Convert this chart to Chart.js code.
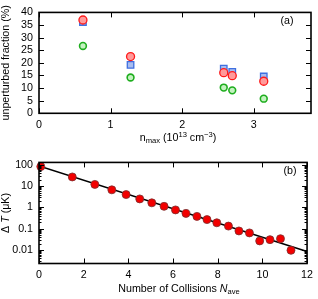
<!DOCTYPE html>
<html>
<head>
<meta charset="utf-8">
<script src="https://cdn.jsdelivr.net/npm/chart.js@4.4.1/dist/chart.umd.min.js"></script>
<style>
    html, body { margin: 0; padding: 0; background: #fff; }
    #wrap { position: relative; width: 318px; height: 299px; }
    .panel { position: absolute; left: 0; width: 318px; }
    #pa { top: 0; height: 150px; }
    #pb { top: 150px; height: 149px; }
</style>
</head>
<body>
<div id="wrap">
    <div class="panel" id="pa"><canvas id="chartA"></canvas></div>
    <div class="panel" id="pb"><canvas id="chartB"></canvas></div>
</div>
<script>
// --- panel (a): unperturbed fraction vs n_max ---
const nMax      = [0.614, 1.279, 2.581, 2.70, 3.14];
const fracRed   = [37.0, 22.5, 16.1, 14.9, 12.7];
const fracBlue  = [36.2, 19.2, 17.7, 16.4, 14.6];
const fracGreen = [26.7, 14.2, 10.2, 9.1, 5.8];
const xTicksA = [0, 1, 2, 3];
const yTicksA = [0, 5, 10, 15, 20, 25, 30, 35, 40];

// --- panel (b): Delta T vs number of collisions ---
const nColl  = [0.08, 1.49, 2.50, 3.26, 3.90, 4.51, 5.05, 5.60, 6.11, 6.58, 7.07, 7.52, 7.96, 8.48, 8.95, 9.42, 9.88, 10.34, 10.81, 11.28];
const deltaT = [83, 27, 12, 6.7, 4.0, 2.5, 1.64, 1.12, 0.76, 0.52, 0.377, 0.267, 0.189, 0.132, 0.078, 0.063, 0.0265, 0.0304, 0.0337, 0.0096];
const fitX = [0, 12];
const fitY = [89, 0.0085];
const xTicksB = [0, 2, 4, 6, 8, 10, 12];
const yTicksB = [0.01, 0.1, 1, 10, 100];
const yLabelsB = ['0.01', '0.1', '1', '10', '100'];

const FAMILY = "'Liberation Sans', Arial, sans-serif";
const FS = 10.7;

Chart.defaults.font.family = FAMILY;
Chart.defaults.font.size = FS;
Chart.defaults.color = '#000';

const pts = (xs, ys) => xs.map((v, i) => ({ x: v, y: ys[i] }));

// draws text made of pieces (subscripts, superscripts, italics)
function drawRich(ctx, parts, cx, cy, angle) {
    const fontOf = p => `${p.italic ? 'italic ' : ''}${(p.sub || p.sup) ? 7.6 : FS}px ${FAMILY}`;
    ctx.save();
    ctx.translate(cx, cy);
    ctx.rotate(angle);
    let w = 0;
    parts.forEach(p => { ctx.font = fontOf(p); w += ctx.measureText(p.text).width; });
    let xx = -w / 2;
    ctx.textBaseline = 'middle';
    ctx.textAlign = 'left';
    ctx.fillStyle = '#000';
    parts.forEach(p => {
        ctx.font = fontOf(p);
        const dy = p.sub ? 2.5 : p.sup ? -3.5 : 0;
        ctx.fillText(p.text, xx, dy);
        xx += ctx.measureText(p.text).width;
    });
    ctx.restore();
}

// frame, inward ticks, axis titles and panel tag
const framePlugin = {
    id: 'framePlugin',
    afterDatasetsDraw(chart, args, opts) {
        const { ctx, chartArea: a, scales: { x, y } } = chart;
        ctx.save();
        ctx.strokeStyle = '#000';
        ctx.lineWidth = 1;
        ctx.beginPath();
        x.ticks.forEach(t => {
            const px = Math.round(x.getPixelForValue(t.value)) + 0.5;
            const len = t.minor ? 2.5 : 5;
            ctx.moveTo(px, a.bottom); ctx.lineTo(px, a.bottom - len);
            ctx.moveTo(px, a.top); ctx.lineTo(px, a.top + len);
        });
        y.ticks.forEach(t => {
            const py = Math.round(y.getPixelForValue(t.value)) + 0.5;
            const len = t.minor ? 2.5 : 5;
            ctx.moveTo(a.left, py); ctx.lineTo(a.left + len, py);
            ctx.moveTo(a.right, py); ctx.lineTo(a.right - len, py);
        });
        ctx.stroke();
        ctx.lineWidth = 1.6;
        ctx.strokeRect(a.left, a.top, a.right - a.left, a.bottom - a.top);

        drawRich(ctx, opts.xTitle, opts.xTitleX, opts.xTitleY, 0);
        drawRich(ctx, opts.yTitle, 6.5, (a.top + a.bottom) / 2, -Math.PI / 2);

        ctx.font = `${FS}px ${FAMILY}`;
        ctx.fillStyle = '#000';
        ctx.textAlign = 'center';
        ctx.textBaseline = 'middle';
        ctx.fillText(opts.tag, opts.tagX, opts.tagY);
        ctx.restore();
    }
};

// -----------------------------
// --- Chart A ---
// -----------------------------
new Chart(document.getElementById('chartA'), {
    type: 'scatter',
    data: {
        datasets: [
            {
                data: pts(nMax, fracRed),
                pointStyle: 'circle',
                pointRadius: 4,
                pointBackgroundColor: '#ff9a9a',
                pointBorderColor: '#ff1a1a',
                pointBorderWidth: 1.3,
                clip: false
            },
            {
                data: pts(nMax, fracBlue),
                pointStyle: 'rect',
                pointRadius: 4.6,
                pointBackgroundColor: '#a8bdf0',
                pointBorderColor: '#3f6fe0',
                pointBorderWidth: 1.3,
                clip: false
            },
            {
                data: pts(nMax, fracGreen),
                pointStyle: 'circle',
                pointRadius: 3.4,
                pointBackgroundColor: '#c4f2c0',
                pointBorderColor: '#1fae1f',
                pointBorderWidth: 1.6,
                clip: false
            }
        ]
    },
    plugins: [framePlugin],
    options: {
        responsive: true,
        maintainAspectRatio: false,
        animation: false,
        layout: { padding: { top: 6.5, right: 7, left: 0, bottom: 0 } },
        plugins: {
            legend: { display: false },
            tooltip: { enabled: false },
            framePlugin: {
                xTitle: [
                    { text: 'n' }, { text: 'max', sub: true }, { text: ' (10' },
                    { text: '13', sup: true }, { text: ' cm' }, { text: '\u22123', sup: true }, { text: ')' }
                ],
                xTitleX: 178, xTitleY: 138.5,
                yTitle: [{ text: 'unperturbed fraction (%)' }],
                tag: '(a)', tagX: 287, tagY: 21
            }
        },
        scales: {
            x: {
                type: 'linear',
                min: 0, max: 3.8,
                afterBuildTicks: (s) => { s.ticks = xTicksA.map(v => ({ value: v })); },
                afterFit: (s) => { s.height = 36.7; },
                grid: { display: false, drawTicks: false },
                border: { display: false },
                ticks: { padding: 5, autoSkip: false, maxRotation: 0 }
            },
            y: {
                min: 0, max: 40,
                afterBuildTicks: (s) => { s.ticks = yTicksA.map(v => ({ value: v })); },
                afterFit: (s) => { s.width = 39; },
                grid: { display: false, drawTicks: false },
                border: { display: false },
                ticks: { padding: 6, autoSkip: false }
            }
        }
    }
});

// -----------------------------
// --- Chart B ---
// -----------------------------
new Chart(document.getElementById('chartB'), {
    type: 'scatter',
    data: {
        datasets: [
            {
                data: pts(nColl, deltaT),
                pointRadius: 4,
                pointBackgroundColor: '#f20000',
                pointBorderColor: '#7a3030',
                pointBorderWidth: 0.8,
                clip: false
            },
            {
                data: pts(fitX, fitY),
                showLine: true,
                borderColor: '#000',
                borderWidth: 1.5,
                pointRadius: 0
            }
        ]
    },
    plugins: [framePlugin],
    options: {
        responsive: true,
        maintainAspectRatio: false,
        animation: false,
        layout: { padding: { top: 9, right: 7, left: 0, bottom: 0 } },
        plugins: {
            legend: { display: false },
            tooltip: { enabled: false },
            framePlugin: {
                xTitle: [{ text: 'Number of Collisions ' }, { text: 'N', italic: true }, { text: 'ave', sub: true }],
                xTitleX: 179, xTitleY: 139,
                yTitle: [{ text: '\u0394 ' }, { text: 'T', italic: true }, { text: ' (\u03bcK)' }],
                tag: '(b)', tagX: 290, tagY: 21
            }
        },
        scales: {
            x: {
                type: 'linear',
                min: 0, max: 12,
                afterBuildTicks: (s) => { s.ticks = xTicksB.map(v => ({ value: v })); },
                afterFit: (s) => { s.height = 35.5; },
                grid: { display: false, drawTicks: false },
                border: { display: false },
                ticks: { padding: 5, autoSkip: false, maxRotation: 0 }
            },
            y: {
                type: 'logarithmic',
                min: 0.0023, max: 130,
                afterBuildTicks: (s) => {
                    const t = [];
                    [0.001].concat(yTicksB).forEach(base => {
                        for (let m = 1; m <= 9; m++) {
                            const v = base * m;
                            if (v >= s.min && v <= s.max) {
                                const major = m === 1 && yTicksB.includes(base);
                                t.push({ value: v, minor: !major, label: major ? yLabelsB[yTicksB.indexOf(base)] : '' });
                            }
                        }
                    });
                    s.ticks = t;
                },
                afterFit: (s) => { s.width = 39; },
                grid: { display: false, drawTicks: false },
                border: { display: false },
                ticks: {
                    padding: 6,
                    autoSkip: false,
                    callback: (v, i, ticks) => ticks[i].minor ? '' : ticks[i].label
                }
            }
        }
    }
});
</script>
</body>
</html>
